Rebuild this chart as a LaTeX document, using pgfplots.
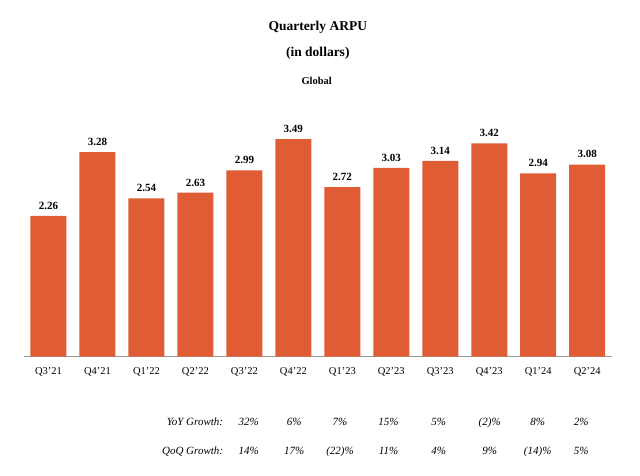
\documentclass[border=0pt]{standalone}
\usepackage{fontspec}
\setmainfont{Liberation Serif}
\usepackage{pgfplots}
\pgfplotsset{compat=1.18}
\definecolor{barc}{HTML}{E05C35}
\begin{document}
\begin{tikzpicture}
\path[use as bounding box] (0,0) rectangle (640pt,475pt);
\begin{axis}[
  at={(24pt,118.3pt)}, anchor=south west,
  scale only axis, width=587.7pt, height=249.4pt,
  xmin=-0.5, xmax=11.5, ymin=0, ymax=4,
  axis x line*=bottom, axis y line=none,
  x axis line style={draw=gray!80, line width=0.9pt},
  xtick={0,...,11}, major tick length=0pt,
  xticklabels={Q3’21,Q4’21,Q1’22,Q2’22,Q3’22,Q4’22,Q1’23,Q2’23,Q3’23,Q4’23,Q1’24,Q2’24},
  xticklabel style={font=\fontsize{10.5}{12}\selectfont, yshift=-7.5pt},
  ytick=\empty,
  clip=false,
  ybar, bar width=0.735,
  nodes near coords,
  point meta=explicit symbolic,
  nodes near coords style={font=\bfseries\fontsize{11}{13}\selectfont, yshift=3pt},
]
\addplot[fill=barc, draw=none] coordinates {
  (0,2.26) [2.26]
  (1,3.28) [3.28]
  (2,2.54) [2.54]
  (3,2.63) [2.63]
  (4,2.99) [2.99]
  (5,3.49) [3.49]
  (6,2.72) [2.72]
  (7,3.03) [3.03]
  (8,3.14) [3.14]
  (9,3.42) [3.42]
  (10,2.94) [2.94]
  (11,3.08) [3.08]
};
\end{axis}
\node[anchor=base, font=\bfseries\fontsize{13.5}{16}\selectfont] at (317.8pt,444pt) {Quarterly ARPU};
\node[anchor=base, font=\bfseries\fontsize{13.5}{16}\selectfont] at (317.8pt,418pt) {(in dollars)};
\node[anchor=base, font=\bfseries\fontsize{10.5}{12}\selectfont] at (316.7pt,390pt) {Global};
\node[anchor=base east, inner sep=0pt, font=\itshape\fontsize{11}{13}\selectfont] at (223.3pt,50pt) {YoY Growth:};
\node[anchor=base east, inner sep=0pt, font=\itshape\fontsize{11}{13}\selectfont] at (223.3pt,21pt) {QoQ Growth:};
\foreach \x/\v in {248.7/32\%,294.2/6\%,340/7\%,388.5/15\%,438.8/5\%,489.7/(2)\%,537.7/8\%,581.3/2\%}
  \node[anchor=base, inner sep=0pt, font=\itshape\fontsize{11}{13}\selectfont] at (\x pt,50pt) {\v};
\foreach \x/\v in {248.7/14\%,294.2/17\%,340/(22)\%,388.5/11\%,438.8/4\%,489.7/9\%,537.7/(14)\%,581.3/5\%}
  \node[anchor=base, inner sep=0pt, font=\itshape\fontsize{11}{13}\selectfont] at (\x pt,21pt) {\v};
\end{tikzpicture}
\end{document}
